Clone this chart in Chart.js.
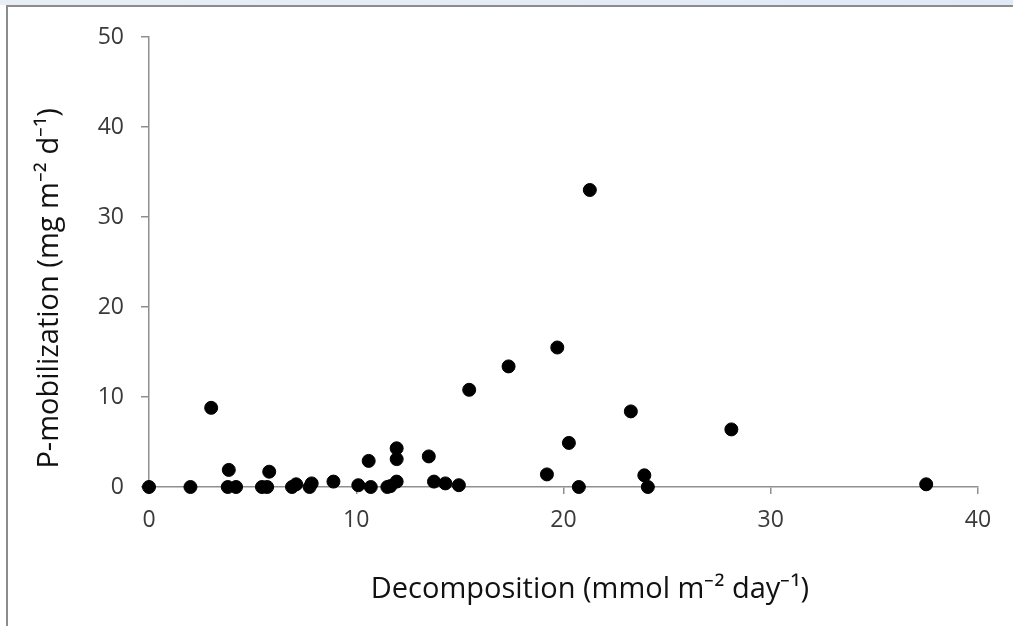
<!DOCTYPE html>
<html lang="en">
<head>
<meta charset="UTF-8">
<title>P-mobilization vs Decomposition</title>
<script src="https://cdn.jsdelivr.net/npm/chart.js"></script>
<style>
    body { margin: 0; background: #ffffff; }
    #topbar { position: absolute; left: 0; top: 0; width: 1013px; height: 5px;
        background: linear-gradient(to right, #e9eef5, #dfeaf7); }
    #topline { position: absolute; left: 6px; top: 5px; width: 1007px; height: 2px; background: #8c8c8c; }
    #leftline { position: absolute; left: 6px; top: 5px; width: 2px; height: 621px; background: #8c8c8c; }
    #grafico { position: absolute; left: 0; top: 0; }
</style>
</head>
<body>
<div id="topbar"></div>
<div id="topline"></div>
<div id="leftline"></div>
<canvas id="grafico" width="1013" height="626"></canvas>

<script>
    // decomposition (mmol m-2 day-1)
    var decomposicao = [0, 2.0, 3.0, 3.85, 3.8, 4.2, 5.45, 5.7, 5.8, 6.9, 7.1, 7.75, 7.85, 8.9,
        10.1, 10.7, 10.6, 11.5, 11.65, 11.95, 11.95, 11.95, 13.5, 13.75, 14.3, 14.95, 15.45, 17.35,
        21.27, 19.7, 23.25, 20.26, 19.2, 20.74, 23.9, 24.07, 28.1, 37.5];

    // P-mobilization (mg m-2 d-1)
    var mobilizacao = [0, 0, 8.8, 1.9, 0, 0, 0, 0, 1.7, 0, 0.3, 0, 0.4, 0.6,
        0.2, 0, 2.9, 0, 0.1, 0.6, 4.3, 3.1, 3.4, 0.6, 0.4, 0.2, 10.8, 13.4,
        33.0, 15.5, 8.4, 4.9, 1.4, 0, 1.3, 0, 6.4, 0.3];

    var ticksX = [0, 10, 20, 30, 40];
    var ticksY = [0, 10, 20, 30, 40, 50];

    var pontos = [];
    for (var i = 0; i < decomposicao.length; i++) {
        pontos.push({ x: decomposicao[i], y: mobilizacao[i] });
    }

    var corEixo = '#8f8f8f';
    var fonteTicks = { family: 'Open Sans', size: 23 };
    var fonteTitulo = { family: 'Open Sans', size: 29 };

    new Chart(document.getElementById('grafico'), {
        type: 'scatter',
        data: {
            datasets: [{
                label: 'P-mobilization',
                data: pontos,
                backgroundColor: '#000000',
                borderColor: '#000000',
                borderWidth: 1,
                pointRadius: 6.5,
                clip: false
            }]
        },
        options: {
            responsive: false,
            animation: false,
            layout: { padding: { left: 0, top: 37, right: 35, bottom: 0 } },
            plugins: { legend: { display: false }, tooltip: { enabled: false } },
            scales: {
                x: {
                    type: 'linear',
                    min: ticksX[0],
                    max: ticksX[ticksX.length - 1],
                    afterBuildTicks: function (s) { s.ticks = ticksX.map(function (v) { return { value: v }; }); },
                    afterFit: function (s) { s.height = 139; },
                    border: { color: corEixo, width: 1.5 },
                    grid: { drawOnChartArea: false, color: corEixo, tickLength: 7, lineWidth: 1.5 },
                    ticks: { color: '#3a3a3a', font: fonteTicks, padding: 13, maxRotation: 0 },
                    title: {
                        display: true,
                        // leading spaces push the text right, like the original
                        text: '       Decomposition (mmol m\u207B\u00B2 day\u207B\u00B9)',
                        color: '#111111',
                        font: fonteTitulo,
                        padding: { top: 0, bottom: 19 }
                    }
                },
                y: {
                    type: 'linear',
                    min: ticksY[0],
                    max: ticksY[ticksY.length - 1],
                    afterBuildTicks: function (s) { s.ticks = ticksY.map(function (v) { return { value: v }; }); },
                    afterFit: function (s) { s.width = 149; },
                    border: { color: corEixo, width: 1.5 },
                    grid: { drawOnChartArea: false, color: corEixo, tickLength: 8, lineWidth: 1.5 },
                    ticks: { color: '#3a3a3a', font: fonteTicks, padding: 17 },
                    title: {
                        display: true,
                        text: 'P-mobilization (mg m\u207B\u00B2 d\u207B\u00B9)       ',
                        color: '#111111',
                        font: fonteTitulo,
                        padding: { top: 32, bottom: 0 }
                    }
                }
            }
        }
    });
</script>
</body>
</html>
